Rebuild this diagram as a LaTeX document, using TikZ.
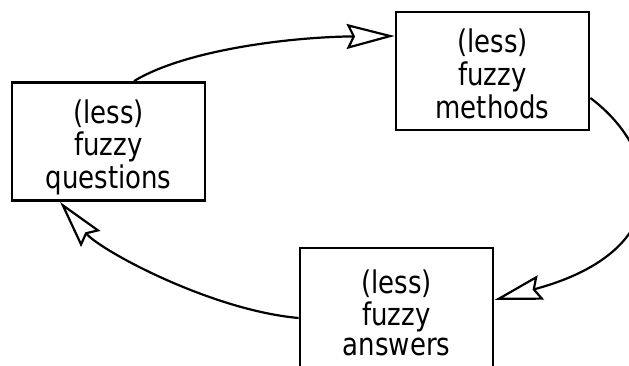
\documentclass[tikz,border=0pt]{standalone}
\usepackage{fontspec}
\setmainfont{DejaVu Sans}
\usetikzlibrary{arrows.meta}
\newcommand{\boxtext}[1]{\scalebox{1}[1.2]{\fontsize{26pt}{25pt}\selectfont\renewcommand{\arraystretch}{1}\begin{tabular}{@{}c@{}}#1\end{tabular}}}
\begin{document}
\begin{tikzpicture}[x=1pt,y=-1pt,
  box/.style={draw,line width=2.8pt,minimum width=193pt,minimum height=118pt,inner sep=0pt},
  txt/.style={inner sep=0pt,yshift=-7pt},
  conn/.style={line width=2.2pt,-{Stealth[open,length=48pt,width=25pt,inset=6pt,line width=2.2pt]}}]
\useasboundingbox (0,0) rectangle (629,365);
\node[box] (q) at (108.5,141.5) {};
\node[box] (m) at (492.5,71) {};
\node[box,minimum height=124pt] (a) at (396.5,310) {};
\node[txt] (qt) at (q.center) {\boxtext{(less)\\fuzzy\\questions}};
\node[txt] (mt) at (m.center) {\boxtext{(less)\\fuzzy\\methods}};
\node[txt] (at) at (a.center) {\boxtext{(less)\\fuzzy\\answers}};
\draw[conn] ([xshift=25.5pt]q.north) .. controls (185,50) and (290,37) .. ([yshift=35pt]m.west);
\draw[conn] ([yshift=-27pt]m.east) .. controls (660,150) and (680,250) .. ([yshift=10pt]a.east);
\draw[conn] ([yshift=-8pt]a.west) .. controls (210,310) and (100,250) .. ([xshift=-48.5pt]q.south);
\end{tikzpicture}
\end{document}
